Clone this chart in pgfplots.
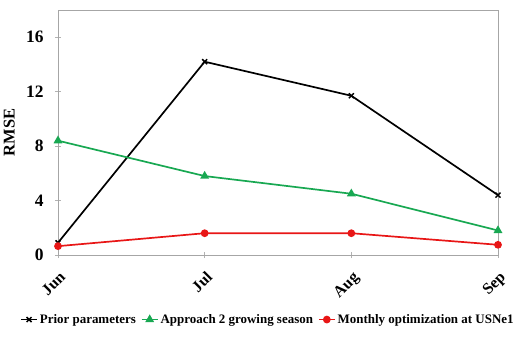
\documentclass[border=0pt]{standalone}
\usepackage{pgfplots}
\pgfplotsset{compat=1.18}
\usepackage{fontspec}
\setmainfont{Liberation Serif}
\definecolor{cblack}{RGB}{0,0,0}
\definecolor{cgreen}{RGB}{24,168,82}
\definecolor{cred}{RGB}{232,22,22}
\begin{document}
\begin{tikzpicture}
\useasboundingbox (-58bp,-97bp) rectangle (455bp,255bp);
\begin{axis}[
  at={(0,0)}, anchor=south west,
  scale only axis,
  width=440bp, height=245bp,
  xmin=0, xmax=3, ymin=0, ymax=18,
  xtick={0,1,2,3},
  xticklabels={Jun,Jul,Aug,Sep},
  ytick={0,4,8,12,16},
  x tick label style={rotate=45, anchor=north east, xshift=-5bp, yshift=-6bp, font=\fontsize{16}{16}\selectfont\bfseries},
  y tick label style={font=\fontsize{17.5}{17.5}\selectfont\bfseries, xshift=-8bp},
  ylabel={RMSE},
  ylabel style={font=\fontsize{16.5}{16.5}\selectfont\bfseries, at={(axis description cs:-0.09,0.5)}},
  axis line style={gray!70},
  tick style={gray!60, thin},
  major tick length=6bp,
  xtick pos=bottom, ytick pos=left,
  tick align=center,
  /pgf/number format/assume math mode=true,
  legend style={at={(0.477,-0.225)}, anchor=north, draw=none, legend columns=3,
    font=\fontsize{13}{13}\selectfont\bfseries,
    /tikz/every odd column/.append style={column sep=0bp},
    /tikz/every even column/.append style={column sep=3bp},
    inner xsep=0pt},
  legend image code/.code={
    \draw[#1, mark repeat=2, mark phase=2] plot coordinates {(0bp,0bp) (8bp,0bp) (16bp,0bp)};
  },
  legend cell align=left,
  clip=false,
]
\addplot[cblack, line width=1.7pt, mark=x, mark size=3.5pt, mark options={line width=1.5pt}]
  coordinates {(0,0.9) (1,14.2) (2,11.7) (3,4.4)};
\addlegendentry{Prior parameters}
\addplot[cgreen, line width=1.7pt, mark=triangle*, mark size=3.5pt]
  coordinates {(0,8.4) (1,5.8) (2,4.5) (3,1.8)};
\addlegendentry{Approach 2 growing season}
\addplot[cred, line width=1.7pt, mark=*, mark size=3pt]
  coordinates {(0,0.65) (1,1.6) (2,1.6) (3,0.75)};
\addlegendentry{Monthly optimization at USNe1}
\end{axis}
\end{tikzpicture}
\end{document}
